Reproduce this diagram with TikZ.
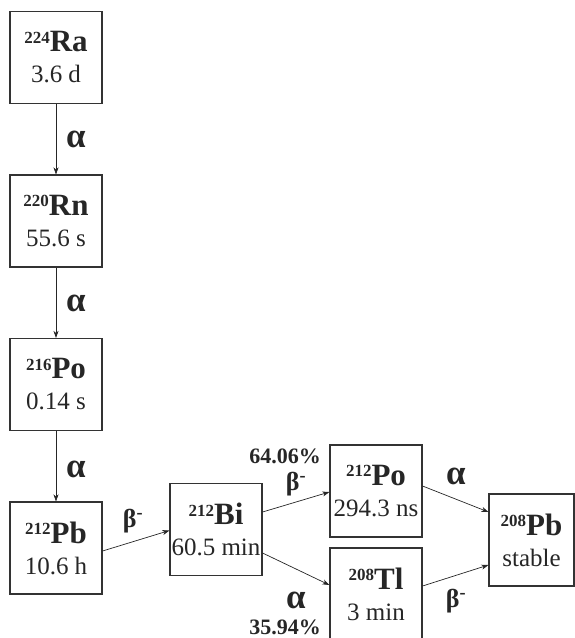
\documentclass[tikz,border=0pt]{standalone}
\usepackage{fontspec}
\setmainfont{Liberation Serif}
\usetikzlibrary{arrows.meta}
\usetikzlibrary{positioning}
\usetikzlibrary{calc}

\newcommand{\nuclide}[3]{{\bfseries\fontsize{17}{31}\selectfont\raisebox{8.5pt}{#1}}{\bfseries\fontsize{31}{31}\selectfont #2}\\#3}

\begin{document}
\begin{tikzpicture}[x=1pt, y={(0pt,-1pt)},
    box/.style={draw=black!80, line width=1.1pt, minimum width=92pt, minimum height=92pt,
        inner sep=0pt, align=center, text=black!85, font=\fontsize{25}{31}\selectfont},
    decay/.style={-{Stealth[length=7pt,width=5pt,inset=2pt]}, line width=0.7pt, draw=black!85},
    lbl/.style={inner sep=0pt, text=black!85, font=\fontsize{26}{26}\selectfont\bfseries},
    alf/.style={inner sep=0pt, text=black!85, font=\fontsize{35}{35}\selectfont\bfseries},
    pct/.style={inner sep=0pt, text=black!85, font=\fontsize{22}{22}\selectfont\bfseries}]
            \useasboundingbox (0,0) rectangle (575,638);

            % 方框
            \node[box] (ra) at (56,57.5) {\nuclide{224}{Ra}{3.6 d}};
            \node[box] (rn) at (56,221) {\nuclide{220}{Rn}{55.6 s}};
            \node[box] (poA) at (56,384.5) {\nuclide{216}{Po}{0.14 s}};
            \node[box] (pbA) at (56,548) {\nuclide{212}{Pb}{10.6 h}};
            \node[box] (bi) at (216,529.5) {\nuclide{212}{Bi}{60.5 min}};
            \node[box] (poB) at (376,491) {\nuclide{212}{Po}{294.3 ns}};
            \node[box] (tl) at (376,594) {\nuclide{208}{Tl}{3 min}};
            \node[box, minimum width=85pt] (pbB) at (531.5,540) {\nuclide{208}{Pb}{stable}};

            % 箭头
            \draw[decay] (ra) -- (rn);
            \draw[decay] (rn) -- (poA);
            \draw[decay] (poA) -- (pbA);
            \draw[decay] ([yshift=-3pt]pbA.east) -- ([yshift=-1pt]bi.west);
            \draw[decay] ([yshift=17.5pt]bi.east) -- ([yshift=-1pt]poB.west);
            \draw[decay] ([yshift=-23.5pt]bi.east) -- ([yshift=9pt]tl.west);
            \draw[decay] ([yshift=5pt]poB.east) -- ([yshift=28pt]pbB.west);
            \draw[decay] ([yshift=8pt]tl.east) -- ([yshift=-25pt]pbB.west);

            % 标签
            \node[alf] (a1) at (76,139) {α};
            \node[alf] (a2) at (76,303) {α};
            \node[alf] (a3) at (76,469) {α};
            \node[lbl] (b1) at (133,521) {β\textsuperscript{-}};
            \node[pct] (p1) at (285,456) {64.06\%};
            \node[lbl] (b2) at (296,484) {β\textsuperscript{-}};
            \node[alf] (a4) at (296,600) {α};
            \node[pct] (p2) at (285,627) {35.94\%};
            \node[alf] (a5) at (456,476) {α};
            \node[lbl] (b3) at (456,601) {β\textsuperscript{-}};
        \end{tikzpicture}
\end{document}
